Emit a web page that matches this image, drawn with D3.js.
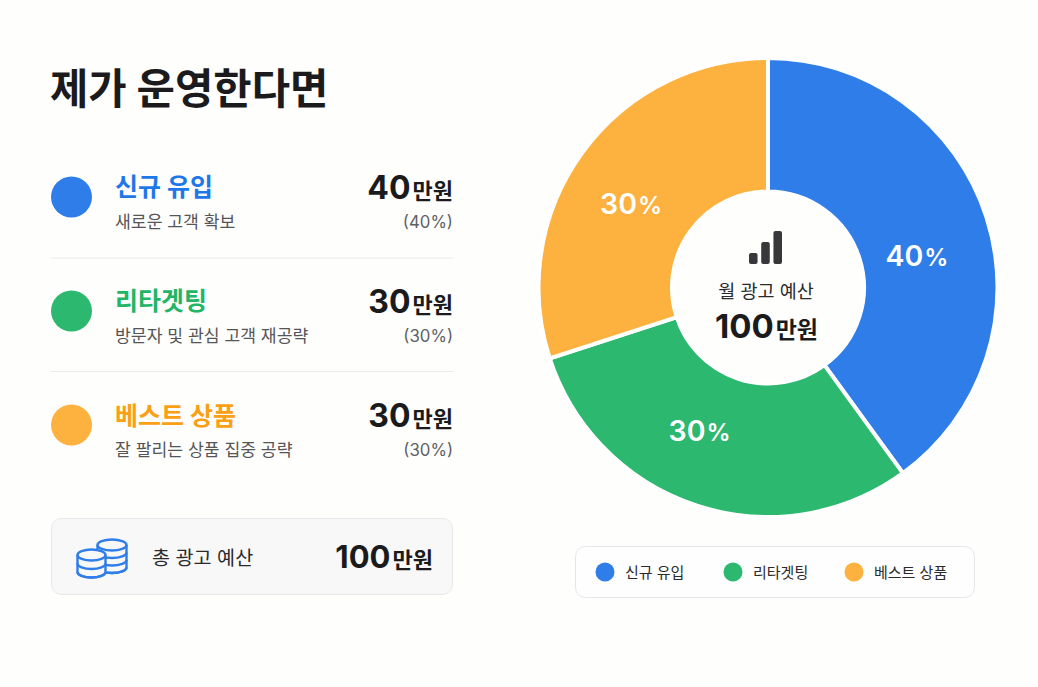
<!DOCTYPE html>
<html lang="ko">
<head>
<meta charset="utf-8">
<script src="https://cdn.jsdelivr.net/npm/d3@7"></script>
<style>
html,body{margin:0;padding:0;background:#fefefd;}
svg{display:block;}
text{font-family:"Inter","Noto Sans CJK KR",sans-serif;}
</style>
</head>
<body>
<svg id="chart" width="1038" height="687"></svg>
<script>
// Budget split
const title = "제가 운영한다면";
const categories = ["신규 유입", "리타겟팅", "베스트 상품"];
const descriptions = ["새로운 고객 확보", "방문자 및 관심 고객 재공략", "잘 팔리는 상품 집중 공략"];
const amounts = [40, 30, 30];
const colors = ["#2f7de9", "#2cb86f", "#fdb13e"];
const labelColors = ["#1f78ea", "#22b566", "#fb9f14"];
const unit = "만원";
const totalLabel = "총 광고 예산";
const centerLabel = "월 광고 예산";
const total = d3.sum(amounts);
const iconBars = [1, 2, 3];

const svg = d3.select("#chart");
const ink = "#1b1b1d";

svg.append("text").attr("x", 50).attr("y", 104)
  .attr("font-size", 41.7).attr("font-weight", 700).attr("fill", ink)
  .text(title);

// Number followed by a smaller unit, right-aligned
function amountText(parent, x, y, value, big, small) {
  const t = parent.append("text").attr("x", x).attr("y", y).attr("text-anchor", "end").attr("fill", ink);
  t.append("tspan").attr("font-size", big).attr("font-weight", 700).text(value);
  t.append("tspan").attr("font-size", small).attr("font-weight", 700).attr("dx", 2).text(unit);
  return t;
}

// Left-hand list
const rowY = d3.scalePoint().domain(categories).range([197, 425]);
const rows = svg.selectAll("g.row").data(categories).join("g").attr("class", "row")
  .attr("transform", d => `translate(0,${rowY(d)})`);
rows.append("circle").attr("cx", 71.5).attr("cy", 0).attr("r", 20.5).attr("fill", (d, i) => colors[i]);
rows.append("text").attr("x", 115).attr("y", (d, i) => i === 2 ? 0 : -1).attr("font-size", 25).attr("font-weight", 700)
  .attr("fill", (d, i) => labelColors[i]).text(d => d);
rows.append("text").attr("x", 115).attr("y", 31).attr("font-size", 17.2).attr("fill", "#555558")
  .text((d, i) => descriptions[i]);
rows.each(function (d, i) {
  const g = d3.select(this);
  amountText(g, 453, 2, amounts[i], 32, 22);
  g.append("text").attr("x", 453).attr("y", 31).attr("text-anchor", "end")
    .attr("font-size", 16.8).attr("fill", "#5f5f62").text(`(${amounts[i] / total * 100}%)`);
});

// Row separators
svg.selectAll("line.sep").data(categories.slice(0, -1)).join("line").attr("class", "sep")
  .attr("x1", 51).attr("x2", 453)
  .attr("y1", (d, i) => [258, 371.5][i]).attr("y2", (d, i) => [258, 371.5][i])
  .attr("stroke", "#ebebed").attr("stroke-width", 1.2);

// Total box
svg.append("rect").attr("x", 51.5).attr("y", 518.5).attr("width", 401).attr("height", 76).attr("rx", 10)
  .attr("fill", "#f8f8f8").attr("stroke", "#e7e7e9");

// Stacked-coin icon
const coin = svg.append("g").attr("fill", "#f8f8f8").attr("stroke", "#2f7de9").attr("stroke-width", 2.4);
function coinStack(cx, topY, rx, ry, layers, step) {
  const bottom = topY + layers * step;
  coin.append("path").attr("d",
    `M${cx - rx},${topY} A${rx},${ry} 0 0 1 ${cx + rx},${topY} L${cx + rx},${bottom} A${rx},${ry} 0 0 1 ${cx - rx},${bottom} Z`);
  d3.range(layers + 1).forEach(k => {
    const y = topY + k * step;
    coin.append("path").attr("fill", "none").attr("d", `M${cx - rx},${y} A${rx},${ry} 0 0 0 ${cx + rx},${y}`);
  });
}
coinStack(112, 545, 14.5, 5.5, 3, 7.5);
coinStack(91.5, 555, 14, 5.5, 2, 8.5);

svg.append("text").attr("x", 152).attr("y", 565).attr("font-size", 19.6).attr("fill", "#2a2a2c").text(totalLabel);
amountText(svg, 433, 568, total, 31, 22);

// Doughnut
const cx = 768, cy = 287.5, outerR = 229.5, innerR = 96;
const pie = d3.pie().sort(null).value(d => d)(amounts);
const arc = d3.arc().innerRadius(innerR).outerRadius(outerR);
const labelArc = d3.arc().innerRadius(163).outerRadius(163);
// Hand-placed shifts from each slice's centroid to its label
const labelShift = [[-6, 23], [-18, -7], [-5, 17]];
const donut = svg.append("g").attr("transform", `translate(${cx},${cy})`);
donut.selectAll("path").data(pie).join("path")
  .attr("d", arc).attr("fill", (d, i) => colors[i])
  .attr("stroke", "#fff").attr("stroke-width", 4).attr("stroke-linejoin", "miter");
const pct = donut.selectAll("text").data(pie).join("text")
  .attr("transform", (d, i) => {
    const [x, y] = labelArc.centroid(d);
    return `translate(${x + labelShift[i][0]},${y + labelShift[i][1]})`;
  })
  .attr("text-anchor", "middle").attr("dy", "0.36em")
  .attr("font-weight", 600).attr("fill", "#fff");
pct.append("tspan").attr("font-size", 28.5).text(d => d.value / total * 100);
pct.append("tspan").attr("font-size", 24).attr("dx", 1).text("%");

// Centre hole
const bar = d3.scaleBand().domain(iconBars).range([749, 782]).paddingInner(0.3);
const barH = d3.scaleLinear().domain([0, 3]).range([0, 33]);
svg.append("g").selectAll("rect").data(iconBars).join("rect")
  .attr("x", d => bar(d)).attr("width", bar.bandwidth())
  .attr("y", d => 264 - barH(d)).attr("height", d => barH(d))
  .attr("rx", 2).attr("fill", "#38383a");
svg.append("text").attr("x", 766).attr("y", 298).attr("text-anchor", "middle")
  .attr("font-size", 18.5).attr("fill", "#2a2a2c").text(centerLabel);
amountText(svg, 818, 338, total, 33, 23);

// Legend
svg.append("rect").attr("x", 575.5).attr("y", 546.5).attr("width", 399).attr("height", 51).attr("rx", 10)
  .attr("fill", "#fefefe").attr("stroke", "#e7e7e9");
const legendX = [605, 733, 854];
const legend = svg.selectAll("g.legend").data(categories).join("g").attr("class", "legend")
  .attr("transform", (d, i) => `translate(${legendX[i]},572)`);
legend.append("circle").attr("r", 9.5).attr("fill", (d, i) => colors[i]);
legend.append("text").attr("x", 20).attr("y", 5.5).attr("font-size", 15).attr("fill", "#2a2a2c").text(d => d);
</script>
</body>
</html>
